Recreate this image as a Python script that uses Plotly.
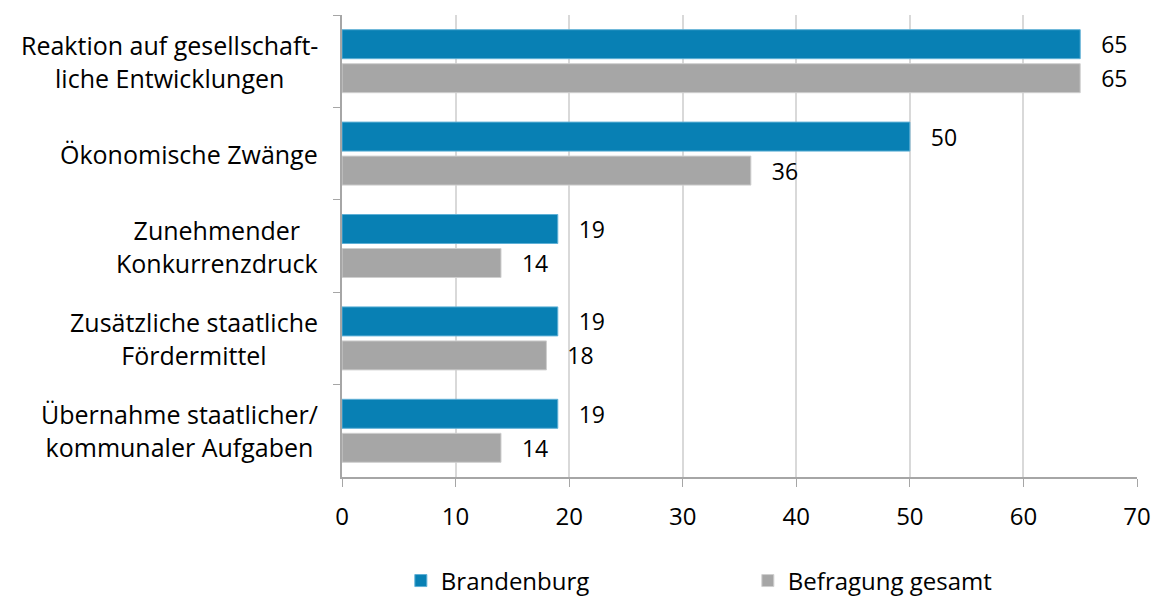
import plotly.graph_objects as go

categories = [
    "Reaktion auf gesellschaft-<br>liche Entwicklungen",
    "Ökonomische Zwänge",
    "Zunehmender<br>Konkurrenzdruck",
    "Zusätzliche staatliche<br>Fördermittel",
    "Übernahme staatlicher/<br>kommunaler Aufgaben",
]
brandenburg = [65, 50, 19, 19, 19]
gesamt = [65, 36, 14, 18, 14]
x_ticks = [0, 10, 20, 30, 40, 50, 60, 70]

BLUE = "#0880b4"
GRAY = "#a6a6a6"
FONT = "'Open Sans', sans-serif"
LABEL_SIZE = 23
CAT_SIZE = 25

fig = go.Figure()
for name, values, color, edge in [
    ("Brandenburg", brandenburg, BLUE, "#5fb0d6"),
    ("Befragung gesamt", gesamt, GRAY, "#cfcfcf"),
]:
    fig.add_trace(go.Bar(
        name=name, y=categories, x=values, orientation="h",
        marker=dict(color=color, line=dict(color=edge, width=1)),
        texttemplate="\u00a0\u00a0\u00a0%{x}", textposition="outside",
        constraintext="none",
        textfont=dict(size=LABEL_SIZE, color="#000000", family=FONT),
        cliponaxis=False,
    ))

# category labels: centred multi-line blocks to the left of the axis
for cat in categories:
    fig.add_annotation(
        x=0, xref="paper", xanchor="right", xshift=-22,
        y=cat, yref="y", yanchor="middle",
        text=cat, align="center", showarrow=False,
        font=dict(family=FONT, size=CAT_SIZE, color="#000000"),
    )

fig.update_layout(
    width=1157, height=597,
    margin=dict(l=342, r=20, t=15, b=120, autoexpand=False),
    paper_bgcolor="white", plot_bgcolor="white",
    barmode="group", bargap=0.264, bargroupgap=0.147,
    font=dict(family=FONT, size=LABEL_SIZE, color="#000000"),
    showlegend=True,
    legend=dict(
        orientation="h", x=0.074, xanchor="left", y=-0.225, yanchor="middle",
        font=dict(size=24), itemwidth=30, entrywidth=302,
        traceorder="normal",
    ),
    xaxis=dict(
        range=[0, 70], tickvals=x_ticks, ticktext=[str(t) for t in x_ticks],
        showgrid=True, gridcolor="#d9d9d9", gridwidth=1.5,
        showline=True, linecolor="#a6a6a6", linewidth=1.5,
        ticks="outside", ticklen=8, tickcolor="#a6a6a6",
        zeroline=False, tickfont=dict(size=24), ticklabelstandoff=9,
    ),
    yaxis=dict(
        autorange="reversed", showline=True, linecolor="#a6a6a6", linewidth=1.5,
        ticks="outside", ticklen=7, tickcolor="#a6a6a6", tickson="boundaries",
        showgrid=False, showticklabels=False,
    ),
)

fig.write_html("out.html")
